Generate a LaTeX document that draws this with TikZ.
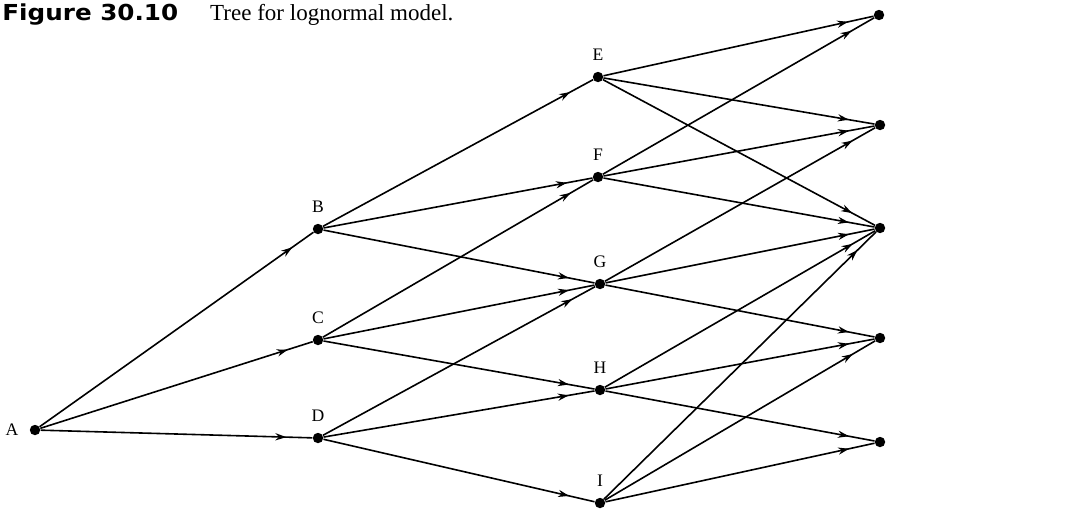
\documentclass[tikz,border=0pt]{standalone}
\usepackage{fontspec}
\setmainfont{Liberation Serif}
\newfontfamily\titlesans{DejaVu Sans}
\usetikzlibrary{arrows.meta,decorations.markings}
\tikzset{
  dot/.style={circle,fill=black,inner sep=0pt,minimum size=5.2pt},
  lbl/.style={font=\fontsize{8.8pt}{10pt}\selectfont},
  arr/.style={line width=0.8pt,postaction={decorate},
    decoration={markings,mark=at position -13pt with {\arrow{Stealth[length=5.5pt,width=3.6pt]}}}}
}
\begin{document}
\begin{tikzpicture}[x=0.5pt,y=-0.5pt]
\useasboundingbox (0,0) rectangle (1069,510);
\node[anchor=base west,inner sep=0pt] (title) at (2,20)
  {\scalebox{1.12}[1]{\titlesans\bfseries\fontsize{11pt}{12pt}\selectfont Figure 30.10}\hspace{16pt}{\fontsize{11.5pt}{13pt}\selectfont Tree for lognormal model.}};
% level 0
\node[dot,label={[lbl,label distance=2pt]left:A}] (A) at (35,430) {};
% level 1
\node[dot,label={[lbl,label distance=2pt]above:B}] (B) at (318,229) {};
\node[dot,label={[lbl,label distance=2pt]above:C}] (C) at (318,340) {};
\node[dot,label={[lbl,label distance=2pt]above:D}] (D) at (318,438) {};
% level 2
\node[dot,label={[lbl,label distance=2pt]above:E}] (E) at (598,77) {};
\node[dot,label={[lbl,label distance=2pt]above:F}] (F) at (598,177) {};
\node[dot,label={[lbl,label distance=2pt]above:G}] (G) at (600,284) {};
\node[dot,label={[lbl,label distance=2pt]above:H}] (H) at (600,390) {};
\node[dot,label={[lbl,label distance=2pt]above:I}] (I) at (600,503) {};
% level 3
\node[dot] (R1) at (879,15) {};
\node[dot] (R2) at (880,125) {};
\node[dot] (R3) at (880,228) {};
\node[dot] (R4) at (880,338) {};
\node[dot] (R5) at (880,442) {};
% edges
\foreach \s/\t in {A/B,A/C,A/D,B/E,B/F,B/G,C/F,C/G,C/H,D/G,D/H,D/I,
  E/R1,E/R2,E/R3,F/R1,F/R2,F/R3,G/R2,G/R3,G/R4,H/R3,H/R4,H/R5,I/R3,I/R4,I/R5}
  \draw[arr] (\s) -- (\t);
\end{tikzpicture}
\end{document}
